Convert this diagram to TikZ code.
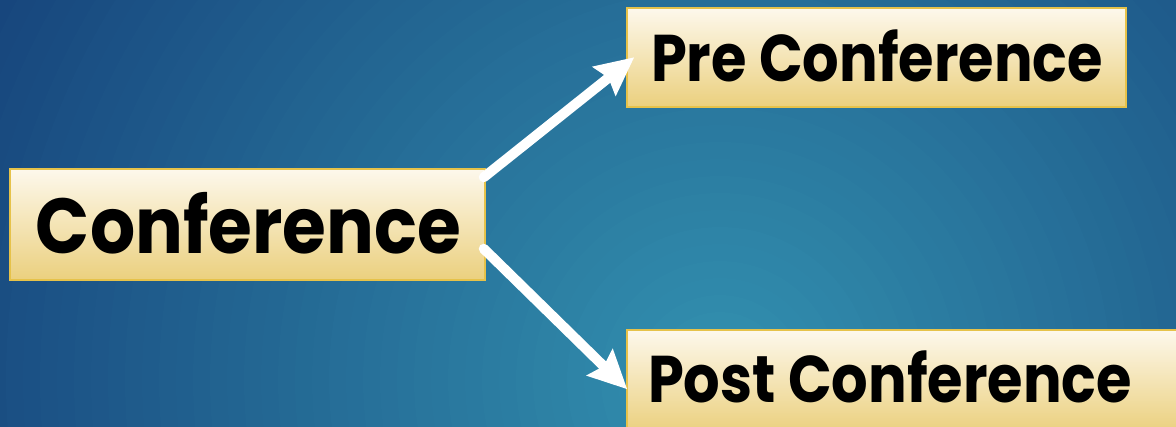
\documentclass[tikz,border=0pt]{standalone}
\usepackage{fontspec}
\setmainfont{Poppins}
\usetikzlibrary{arrows.meta,calc}
\definecolor{bgin}{HTML}{3392B0}
\definecolor{bgout}{HTML}{16437B}
\definecolor{boxtop}{HTML}{FDF8EC}
\definecolor{boxbot}{HTML}{EBD07E}
\definecolor{boxline}{HTML}{E6C24A}
\begin{document}
\begin{tikzpicture}[x=1pt,y=-1pt,
 box/.style={rectangle, draw=boxline, line width=1.5pt, top color=boxtop, bottom color=boxbot, inner sep=0pt},
 bigtext/.style={font=\bfseries\fontsize{78}{78}\selectfont, text=black, inner sep=0pt, anchor=base},
 medtext/.style={font=\bfseries\fontsize{66}{66}\selectfont, text=black, inner sep=0pt, anchor=base},
 arr/.style={draw=white, line width=10pt, line cap=round, -{Stealth[length=38pt,width=36pt,inset=5pt]}}]
\useasboundingbox (0,0) rectangle (1176,427);
\begin{scope}
\clip (0,0) rectangle (1176,427);
\fill[bgout] (0,0) rectangle (1176,427);
\foreach \i [evaluate=\i as \pct using int(2*\i), evaluate=\i as \rr using 850-17*\i] in {0,...,49}
  \fill[bgin!\pct!bgout] (720,380) circle (\rr);
\node[box, minimum width=475pt, minimum height=111pt] (conf) at (247.5,224.5) {};
\node[box, minimum width=499pt, minimum height=99pt] (pre) at (876.5,57.5) {};
\node[box, minimum width=558pt, minimum height=102pt] (post) at (906,381) {};
\node[bigtext] (conft) at (248.5,254) {\scalebox{0.91}[1]{Conference}};
\node[medtext] (pret) at (877,82) {\scalebox{0.87}[1]{Pre Conference}};
\node[medtext] (postt) at (890,403) {\scalebox{0.87}[1]{Post Conference}};
\draw[arr] ($(conf.north east)+(-2,9)$) -- ($(pre.north west)+(8,50)$);
\draw[arr] ($(conf.south east)+(-2,-32)$) -- ($(post.north west)+(1,60)$);
\end{scope}
\end{tikzpicture}
\end{document}
